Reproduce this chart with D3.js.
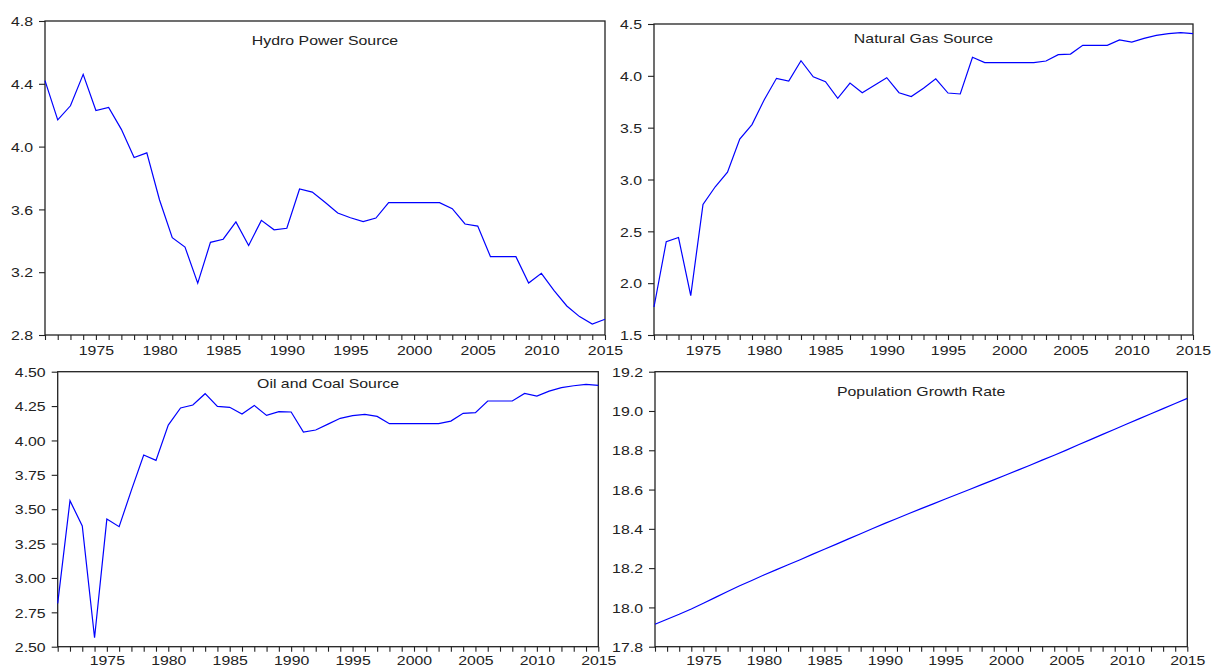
<!DOCTYPE html>
<html>
<head>
<meta charset="utf-8">
<script src="https://cdn.jsdelivr.net/npm/d3@7"></script>
<style>
html,body{margin:0;padding:0;background:#fff;}
svg{display:block;}
</style>
</head>
<body>
<svg id="chart" width="1214" height="667"></svg>
<script>
const years = d3.range(1971, 2016);

const hydro = [4.42,4.17,4.26,4.46,4.23,4.25,4.11,3.93,3.96,3.66,
  3.42,3.36,3.13,3.39,3.41,3.52,3.37,3.53,3.47,3.48,
  3.73,3.71,3.645,3.577,3.547,3.522,3.545,3.643,3.643,3.643,
  3.643,3.643,3.605,3.507,3.494,3.299,3.299,3.299,3.131,3.193,
  3.082,2.985,2.917,2.870,2.900];

const gas = [1.77,2.40,2.44,1.88,2.76,2.93,3.07,3.39,3.53,3.77,
  3.976,3.95,4.146,3.99,3.943,3.783,3.93,3.837,3.91,3.982,
  3.837,3.80,3.88,3.972,3.834,3.825,4.179,4.127,4.127,4.127,
  4.127,4.127,4.143,4.204,4.21,4.294,4.294,4.294,4.346,4.326,
  4.362,4.391,4.407,4.416,4.407];

const oilCoal = [2.815,3.562,3.378,2.565,3.428,3.373,3.639,3.894,3.855,4.112,
  4.236,4.258,4.34,4.248,4.241,4.192,4.255,4.182,4.209,4.207,
  4.061,4.076,4.119,4.161,4.18,4.19,4.175,4.122,4.122,4.122,
  4.122,4.122,4.141,4.197,4.202,4.287,4.287,4.287,4.342,4.323,
  4.359,4.384,4.398,4.408,4.40];

const population = [17.914,17.94,17.965,17.992,18.021,18.051,18.081,18.11,18.137,18.165,
  18.191,18.217,18.243,18.27,18.296,18.322,18.349,18.375,18.402,18.428,
  18.453,18.478,18.503,18.527,18.552,18.576,18.600,18.625,18.649,18.674,
  18.699,18.724,18.750,18.775,18.801,18.828,18.854,18.881,18.907,18.934,
  18.960,18.986,19.012,19.038,19.064];

const titles = ["Hydro Power Source","Natural Gas Source","Oil and Coal Source","Population Growth Rate"];
const yDomains = [[2.8,4.8],[1.5,4.5],[2.5,4.5],[17.8,19.2]];
const yTicks = [[2.8,3.2,3.6,4.0,4.4,4.8],[1.5,2.0,2.5,3.0,3.5,4.0,4.5],
  [2.5,2.75,3.0,3.25,3.5,3.75,4.0,4.25,4.5],[17.8,18.0,18.2,18.4,18.6,18.8,19.0,19.2]];
const yFormats = [".1f",".1f",".2f",".1f"];
const xLabelYears = [1975,1980,1985,1990,1995,2000,2005,2010,2015];
const series = [hydro, gas, oilCoal, population];

// panel boxes: [left, top, right, bottom]
const boxes = [[45,21,605,335],[654,24,1193,335],[57.7,371.7,598.3,646.7],[655,371.7,1187.3,646.7]];
const titleY = [44.5,43,388,395.7];
const xLabelOffset = [20.5,20.5,18.5,18.5];

const SX = 1.22; // horizontal stretch of the original rendering
const FONT = "'Liberation Sans', Arial, sans-serif";
const svg = d3.select("#chart");

series.forEach((data, i) => {
  const [l,t,r,b] = boxes[i];
  const x = d3.scaleLinear().domain([1971,2015]).range([l,r]);
  const y = d3.scaleLinear().domain(yDomains[i]).range([b,t]);
  const g = svg.append("g");

  // frame
  g.append("rect").attr("x",l).attr("y",t).attr("width",r-l).attr("height",b-t)
    .attr("fill","none").attr("stroke","#222").attr("stroke-width",1.3);

  // y axis
  const fmt = d3.format(yFormats[i]);
  const ya = g.append("g").attr("transform",`translate(${l},0)`)
    .call(d3.axisLeft(y).tickValues(yTicks[i]).tickSize(6).tickFormat(fmt));
  ya.select(".domain").remove();
  ya.selectAll(".tick line").attr("stroke","#222").attr("stroke-width",1.1);
  ya.selectAll(".tick text")
    .attr("x",-12/SX).attr("dy","0.36em")
    .attr("transform",`scale(${SX},1)`)
    .style("font-family",FONT).style("font-size","13px").attr("fill","#222");

  // x axis
  const xa = g.append("g").attr("transform",`translate(0,${b})`)
    .call(d3.axisBottom(x).tickValues(years).tickSize(5)
      .tickFormat(d => xLabelYears.includes(d) ? String(d) : ""));
  xa.select(".domain").remove();
  xa.selectAll(".tick line").attr("stroke","#222").attr("stroke-width",1.1);
  xa.selectAll(".tick text")
    .attr("y",xLabelOffset[i]).attr("dy",0)
    .attr("transform",`scale(${SX},1)`)
    .style("font-family",FONT).style("font-size","13px").attr("fill","#222");

  // series line
  const line = d3.line().x((d,k)=>x(years[k])).y(d=>y(d));
  g.append("path").datum(data).attr("d",line)
    .attr("fill","none").attr("stroke","#0000ff").attr("stroke-width",1.2)
    .attr("stroke-linejoin","miter");

  // title
  g.append("text")
    .attr("transform",`translate(${(l+r)/2},${titleY[i]}) scale(${SX},1)`)
    .attr("text-anchor","middle")
    .style("font-family",FONT).style("font-size","13px").attr("fill","#222")
    .text(titles[i]);
});
</script>
</body>
</html>
